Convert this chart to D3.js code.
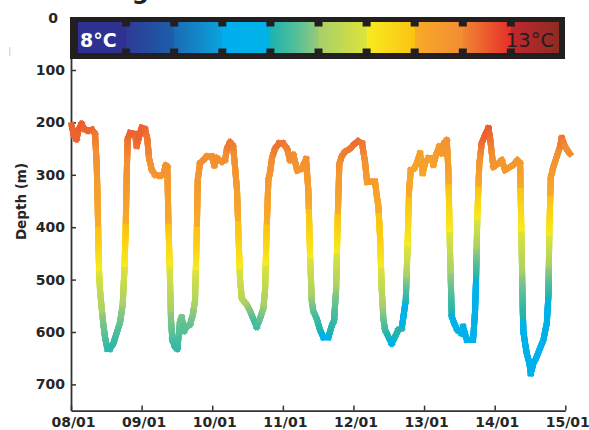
<!DOCTYPE html>
<html>
<head>
<meta charset="utf-8">
<script src="https://cdn.jsdelivr.net/npm/d3@7"></script>
<style>
body { margin: 0; background: #fff; }
text { font-family: "DejaVu Sans", sans-serif; }
</style>
</head>
<body>
<svg id="chart" width="589" height="430"></svg>
<script>
// time in days of January (08/01 = 8.0)
var days = [
    8.007,8.042,8.078,8.106,8.149,8.184,8.241,8.297,8.340,
    8.364,8.375,8.387,8.399,8.411,8.435,8.458,8.482,8.514,8.552,
    8.599,8.647,8.694,8.732,8.755,8.775,8.789,8.803,8.836,8.907,
    8.931,8.963,9.001,9.048,9.081,9.105,9.143,9.190,9.261,9.307,
    9.341,9.364,9.378,9.402,9.416,9.435,9.473,9.506,9.544,9.568,
    9.601,9.639,9.686,9.724,9.756,9.780,9.795,9.827,9.874,9.922,
    9.993,10.030,10.064,10.100,10.139,10.181,10.210,10.252,10.295,10.323,
    10.351,10.373,10.394,10.418,10.441,10.489,10.535,10.582,10.630,10.677,
    10.724,10.748,10.772,10.795,10.819,10.847,10.890,10.946,11.003,11.059,
    11.102,11.149,11.205,11.268,11.329,11.361,11.385,11.409,11.432,11.480,
    11.527,11.574,11.645,11.693,11.725,11.754,11.778,11.800,11.834,11.881,
    11.952,12.008,12.065,12.122,12.164,12.193,12.235,12.306,12.330,12.353,
    12.377,12.401,12.424,12.448,12.494,12.542,12.589,12.636,12.684,12.707,
    12.741,12.763,12.788,12.812,12.858,12.896,12.943,12.981,13.014,13.060,
    13.108,13.131,13.170,13.216,13.251,13.283,13.321,13.344,13.368,13.392,
    13.425,13.471,13.534,13.552,13.605,13.652,13.694,13.722,13.736,13.754,
    13.782,13.816,13.864,13.911,13.935,13.959,13.981,14.052,14.100,14.147,
    14.218,14.265,14.322,14.360,14.374,14.398,14.407,14.431,14.455,14.492,
    14.511,14.548,14.586,14.633,14.690,14.738,14.761,14.775,14.795,14.831,
    14.880,14.926,14.950,14.997,15.044,15.068
];

// depth in metres
var depth = [
    205,225,232,215,203,212,216,214,222,
    280,340,420,490,520,555,585,610,632,632,
    622,602,582,548,485,400,300,232,220,222,
    245,228,210,213,232,268,290,300,302,300,
    282,285,380,500,575,615,628,632,580,572,
    598,590,585,568,540,420,310,278,272,265,
    265,282,268,272,275,272,250,238,245,285,
    330,420,500,535,540,548,560,575,590,574,
    555,520,400,310,295,268,250,240,240,250,
    272,262,292,288,270,330,450,540,560,575,
    596,610,610,588,578,520,380,280,265,256,
    250,242,236,240,276,314,313,313,340,360,
    420,520,575,596,609,622,609,596,593,571,
    539,450,330,291,288,278,259,297,278,268,
    268,281,262,246,259,240,234,290,450,570,
    583,596,603,590,615,615,615,560,500,380,
    280,240,224,211,230,259,285,278,272,291,
    285,281,272,278,380,560,600,622,641,660,
    679,660,650,634,615,583,530,400,305,285,
    265,246,230,246,256,260
];

// water temperature at the tag (degC)
var temp = [
    12.2,12.2,12.2,12.2,12.25,12.2,12.2,12.2,12.1,
    11.9,11.7,11.45,11.0,10.8,10.6,10.4,10.3,10.15,10.1,
    10.1,10.2,10.3,10.5,10.9,11.45,11.85,12.1,12.2,12.2,
    12.1,12.2,12.2,12.2,12.1,12.0,11.9,11.85,11.85,11.85,
    11.9,11.9,11.6,10.9,10.45,10.25,10.15,10.1,10.35,10.4,
    10.25,10.3,10.3,10.4,10.55,11.4,11.8,11.9,11.95,11.95,
    11.95,11.9,11.95,11.95,11.95,11.95,12.0,12.1,12.05,11.9,
    11.75,11.4,10.9,10.7,10.65,10.55,10.45,10.3,10.15,10.3,
    10.45,10.65,11.45,11.8,11.85,11.95,12.05,12.1,12.1,12.05,
    11.95,12.0,11.85,11.85,11.95,11.7,11.1,10.5,10.35,10.2,
    10.05,9.95,9.95,10.05,10.1,10.45,11.45,11.9,12.0,12.05,
    12.05,12.1,12.15,12.1,11.95,11.75,11.75,11.75,11.65,11.55,
    11.4,10.75,10.4,10.2,10.05,9.95,10.0,10.05,10.05,9.9,
    10.0,10.9,11.55,11.6,11.6,11.65,11.7,11.6,11.65,11.7,
    11.7,11.65,11.7,11.8,11.75,11.85,11.9,11.7,10.8,10.0,
    9.9,9.85,9.85,9.85,9.8,9.8,9.8,9.9,9.95,11.0,
    11.8,12.1,12.2,12.25,12.15,12.0,11.85,11.85,11.85,11.8,
    11.8,11.8,11.85,11.8,11.2,10.1,9.9,9.8,9.75,9.7,
    9.65,9.7,9.7,9.75,9.8,9.85,10.0,11.1,11.7,11.8,
    11.9,12.0,12.1,12.0,11.95,11.95
];

// ticks
var depthTicks = [0, 100, 200, 300, 400, 500, 600, 700];
var dayTicks = [8, 9, 10, 11, 12, 13, 14, 15];
var dayLabels = ["08/01", "09/01", "10/01", "11/01", "12/01", "13/01", "14/01", "15/01"];

// colour bar stops (degC -> colour), 0.5 degC blocks
var barTemps = [8.0, 8.5, 8.5, 9.0, 9.0, 9.5, 9.5, 10.0, 10.0, 10.25, 10.5, 10.5, 11.0, 11.0, 11.5, 11.5, 12.0, 12.0, 12.25, 12.5, 12.5, 13.0];
var barColors = ["#2e3092", "#2e3092", "#2e3a96", "#1b5faa", "#1a6cb4", "#0aa4dd", "#00aeef", "#00b3e6",
                 "#1db3b0", "#4fbe9b", "#98ca79", "#a6cf6a", "#dde33a", "#f6ec1f", "#fcc212", "#f8ab27",
                 "#f28c34", "#f08633", "#ec5a2e", "#e42f2a", "#c3272d", "#8e2b23"];
var barNotches = [8.5, 9.0, 9.5, 10.0, 10.5, 11.0, 11.5, 12.0, 12.5];


var svg = d3.select('#chart');

var x = d3.scaleLinear().domain([8, 15]).range([71, 565.3]);
var y = d3.scaleLinear().domain([0, 750]).range([17.6, 410.6]);
var color = d3.scaleLinear().domain(barTemps).range(barColors)
    .interpolate(d3.interpolateRgb).clamp(true);

// bit of the figure title cut by the top edge
svg.append("text")
    .attr("x", 149)
    .attr("y", -1.5)
    .attr("text-anchor", "end")
    .attr("font-size", 24)
    .attr("font-weight", "bold")
    .attr("fill", "#222")
    .text("Diving");

// small scan mark on the left
svg.append("rect")
    .attr("x", 9).attr("y", 47).attr("width", 1.5).attr("height", 9)
    .attr("fill", "#bfe6f5");


// AXES
var gy = svg.append("g")
    .attr("transform", "translate(71,0)")
    .call(d3.axisLeft(y).tickValues(depthTicks).tickSize(-5).tickPadding(6).tickSizeOuter(0));

var gx = svg.append("g")
    .attr("transform", "translate(0," + y(750) + ")")
    .call(d3.axisBottom(x).tickValues(dayTicks)
        .tickFormat(function (d, i) { return dayLabels[i]; })
        .tickSize(-5).tickPadding(6).tickSizeOuter(0));

[gy, gx].forEach(function (g) {
    g.select(".domain").attr("stroke", "#333").attr("stroke-width", 1.8);
    g.selectAll(".tick line").attr("stroke", "#333").attr("stroke-width", 1.5);
    g.selectAll(".tick text")
        .attr("font-family", "DejaVu Sans")
        .attr("font-size", 14)
        .attr("font-weight", "bold")
        .attr("fill", "#262626");
});
gx.selectAll(".tick text").attr("dx", 2);
// the 0 label sits left of the colour bar
gy.selectAll(".tick").filter(function (d) { return d === 0; })
    .select("text").attr("x", -13);

svg.append("text")
    .attr("transform", "translate(26,201.5) rotate(-90)")
    .attr("text-anchor", "middle")
    .attr("font-size", 13.5)
    .attr("font-weight", "bold")
    .attr("fill", "#262626")
    .text("Depth (m)");


// DEPTH TRACE, coloured by temperature
var trace = svg.append("g");
for (var i = 0; i < days.length - 1; i++) {
    var x0 = x(days[i]), y0 = y(depth[i]);
    var x1 = x(days[i + 1]), y1 = y(depth[i + 1]);
    var n = Math.max(1, Math.ceil(Math.hypot(x1 - x0, y1 - y0) / 2));
    for (var k = 0; k < n; k++) {
        var f0 = k / n, f1 = (k + 1) / n, fm = (f0 + f1) / 2;
        trace.append("line")
            .attr("x1", x0 + (x1 - x0) * f0)
            .attr("y1", y0 + (y1 - y0) * f0)
            .attr("x2", x0 + (x1 - x0) * f1)
            .attr("y2", y0 + (y1 - y0) * f1)
            .attr("stroke", color(temp[i] + (temp[i + 1] - temp[i]) * fm))
            .attr("stroke-width", 6)
            .attr("stroke-linecap", "square");
    }
}


// COLOUR BAR
var cx = d3.scaleLinear().domain([8, 13]).range([78, 559]);

var grad = svg.append("defs").append("linearGradient")
    .attr("id", "tempGrad")
    .attr("x1", "0").attr("x2", "1").attr("y1", "0").attr("y2", "0");
barTemps.forEach(function (t, i) {
    grad.append("stop")
        .attr("offset", (t - 8) / 5)
        .attr("stop-color", barColors[i]);
});

var bar = svg.append("g");
bar.append("rect")
    .attr("x", 70).attr("y", 17).attr("width", 495).attr("height", 42)
    .attr("fill", "#231f20");
bar.append("rect")
    .attr("x", cx(8)).attr("y", 22).attr("width", cx(13) - cx(8)).attr("height", 31)
    .attr("fill", "url(#tempGrad)");

barNotches.forEach(function (t) {
    bar.append("rect")
        .attr("x", cx(t) - 4).attr("y", 22).attr("width", 8).attr("height", 4.5)
        .attr("fill", "#231f20");
    bar.append("rect")
        .attr("x", cx(t) - 4).attr("y", 48.5).attr("width", 8).attr("height", 4.5)
        .attr("fill", "#231f20");
});

bar.append("text")
    .attr("x", 80).attr("y", 46.5)
    .attr("font-size", 19)
    .attr("font-weight", "bold")
    .attr("fill", "#fff")
    .text("8°C");

bar.append("text")
    .attr("x", 554).attr("y", 46.5)
    .attr("text-anchor", "end")
    .attr("font-size", 19.5)
    .attr("fill", "#231f20")
    .text("13°C");
</script>
</body>
</html>
